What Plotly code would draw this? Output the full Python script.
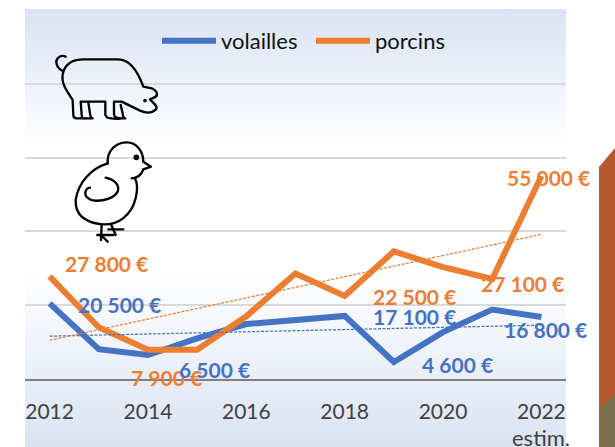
import base64
import plotly.graph_objects as go

years = [2012, 2013, 2014, 2015, 2016, 2017, 2018, 2019, 2020, 2021, 2022]
volailles = [20500, 8100, 6500, 11000, 14900, 16000, 17100, 4600, 12700, 18800, 16800]
porcins = [27800, 14000, 7900, 7900, 17000, 28600, 22500, 34600, 30300, 27100, 55000]
trend_years = [2012, 2022]
trend_volailles = [11600, 14600]
trend_porcins = [10500, 39200]
tick_years = [2012, 2014, 2016, 2018, 2020, 2022]
tick_labels = ["2012", "2014", "2016", "2018", "2020", "2022"]

BLUE = "#4472C4"
ORANGE = "#ED7D31"

# (series colour, text, anchor year, anchor value, x shift, y shift)
labels = [
    (ORANGE, "27 800 €", 2012, 27800, 57, 13),
    (BLUE, "20 500 €", 2012, 20500, 70, -1),
    (ORANGE, "7 900 €", 2014, 7900, 19, -28),
    (BLUE, "6 500 €", 2014, 6500, 67, -14),
    (ORANGE, "22 500 €", 2018, 22500, 70, -1),
    (BLUE, "17 100 €", 2018, 17100, 70, -1),
    (BLUE, "4 600 €", 2019, 4600, 64, -2),
    (ORANGE, "27 100 €", 2021, 27100, 30, -4),
    (BLUE, "16 800 €", 2022, 16800, 4, -12),
    (ORANGE, "55 000 €", 2022, 55000, 7, -1),
]

W, H = 615, 447
ML, MR, MT, MB = 25, 49, 10, 68
PW, PH = W - ML - MR, H - MT - MB

background = f"""<svg xmlns='http://www.w3.org/2000/svg' width='{W}' height='{H}' viewBox='0 0 {W} {H}' preserveAspectRatio='none'>
<defs><linearGradient id='g' x1='0' y1='0' x2='0' y2='1'>
<stop offset='0' stop-color='#D9E3F3'/><stop offset='0.31' stop-color='#FFFFFF'/>
<stop offset='0.6' stop-color='#FFFFFF'/><stop offset='1' stop-color='#DAE3F3'/>
</linearGradient></defs>
<rect x='25' y='9' width='541' height='438' fill='url(#g)'/>
<path d='M599 167 L615 148 L615 447 L599 447 Z' fill='#B85A2F'/>
<path d='M599 410 L615 393 L615 447 L599 447 Z' fill='#7F7050'/>
</svg>"""

icons = f"""<svg xmlns='http://www.w3.org/2000/svg' width='{W}' height='{H}' viewBox='0 0 {W} {H}' preserveAspectRatio='none'>
<g transform='translate(50 50) scale(0.3333)' fill='none' stroke='#000' stroke-width='7' stroke-linecap='round' stroke-linejoin='round'>
<path d='M47 20 C30 12 15 28 20 42 C23 54 32 60 40 64'/>
<path d='M40 64 C50 38 72 28 100 28 L205 28 C240 28 262 60 280 110 L305 115 C325 125 325 138 312 143 L300 148 C312 160 325 170 318 178 C305 190 288 190 270 182 L215 155 L192 155 L192 192 C192 205 205 205 212 205 C200 208 178 205 172 203 L166 195 L166 155 L92 155 L95 195 C95 205 100 205 105 205 L80 205 C72 205 70 200 70 195 L68 150 C50 120 30 100 40 64'/>
<path d='M115 158 L120 190 C122 205 125 205 128 205 L105 205'/>
<path d='M212 165 L218 190 C220 205 222 205 226 205 L205 205'/>
<circle cx='285' cy='152' r='2' fill='#000'/>
</g>
<g transform='translate(65 135) scale(0.3333)' fill='none' stroke='#000' stroke-width='7' stroke-linecap='round' stroke-linejoin='round'>
<path d='M128 85 C125 50 150 22 185 22 C215 22 235 50 235 80 L258 95 L235 103 C230 120 215 130 200 130'/>
<path d='M128 85 C80 100 40 140 32 195 C30 240 60 262 110 268 C160 272 200 240 212 190 C218 165 218 145 210 130'/>
<path d='M122 128 C150 135 165 150 158 170 C145 195 90 205 70 190 C55 180 60 160 75 158'/>
<path d='M110 268 L108 315 M97 300 L145 300 M108 300 L128 320 M138 268 L152 300 M130 283 L175 283'/>
<circle cx='214' cy='67' r='5' fill='#000'/>
</g>
</svg>"""


def uri(svg):
    return "data:image/svg+xml;base64," + base64.b64encode(svg.encode()).decode()


def page_image(svg, layer):
    return dict(source=uri(svg), xref="paper", yref="paper", x=-ML / PW, y=1 + MT / PH,
                sizex=W / PW, sizey=H / PH, xanchor="left", yanchor="top",
                sizing="stretch", layer=layer)


fig = go.Figure()
fig.add_trace(go.Scatter(x=years, y=volailles, mode="lines", name="volailles",
                         line=dict(color=BLUE, width=6), cliponaxis=False))
fig.add_trace(go.Scatter(x=years, y=porcins, mode="lines", name="porcins",
                         line=dict(color=ORANGE, width=6), cliponaxis=False))
fig.add_trace(go.Scatter(x=trend_years, y=trend_volailles, mode="lines", showlegend=False,
                         line=dict(color=BLUE, width=1.25, dash="3px,1.5px")))
fig.add_trace(go.Scatter(x=trend_years, y=trend_porcins, mode="lines", showlegend=False,
                         line=dict(color=ORANGE, width=1.25, dash="3px,1.5px")))

annotations = [dict(x=x, y=y, xref="x", yref="y", text=f"<b>{t}</b>", showarrow=False,
                    xshift=dx, yshift=dy, font=dict(color=c, size=21, family="Lato"))
               for c, t, x, y, dx, dy in labels]
annotations.append(dict(x=2022, y=0, xref="x", yref="y", text="estim.", showarrow=False,
                        yshift=-58, font=dict(color="#404040", size=22, family="Lato")))

fig.update_layout(
    width=W, height=H, margin=dict(l=ML, r=MR, t=MT, b=MB, pad=0),
    paper_bgcolor="#FFFFFF", plot_bgcolor="rgba(0,0,0,0)",
    font=dict(family="Lato", color="#404040", size=20),
    images=[page_image(background, "below"), page_image(icons, "above")],
    annotations=annotations,
    legend=dict(orientation="h", x=(157 - ML) / PW, y=1 - (41 - MT) / PH, xanchor="left", yanchor="middle",
                bgcolor="rgba(0,0,0,0)", itemwidth=54, entrywidth=85, entrywidthmode="pixels",
                font=dict(size=22, color="#111111", family="Lato")),
    xaxis=dict(range=[2011.5, 2022.5], tickvals=tick_years, ticktext=tick_labels, ticks="",
               showgrid=False, showline=True, linecolor="#7F7F7F", linewidth=2, zeroline=False,
               ticklabelstandoff=13, tickfont=dict(size=21, color="#404040")),
    yaxis=dict(range=[0, 100000], dtick=20000, showticklabels=False, ticks="",
               gridcolor="#D9D9D9", gridwidth=1.5, zeroline=False),
)
fig.write_html("out.html", config=dict(displayModeBar=False),
               post_script="document.body.style.margin='0';document.body.style.overflow='hidden';")
